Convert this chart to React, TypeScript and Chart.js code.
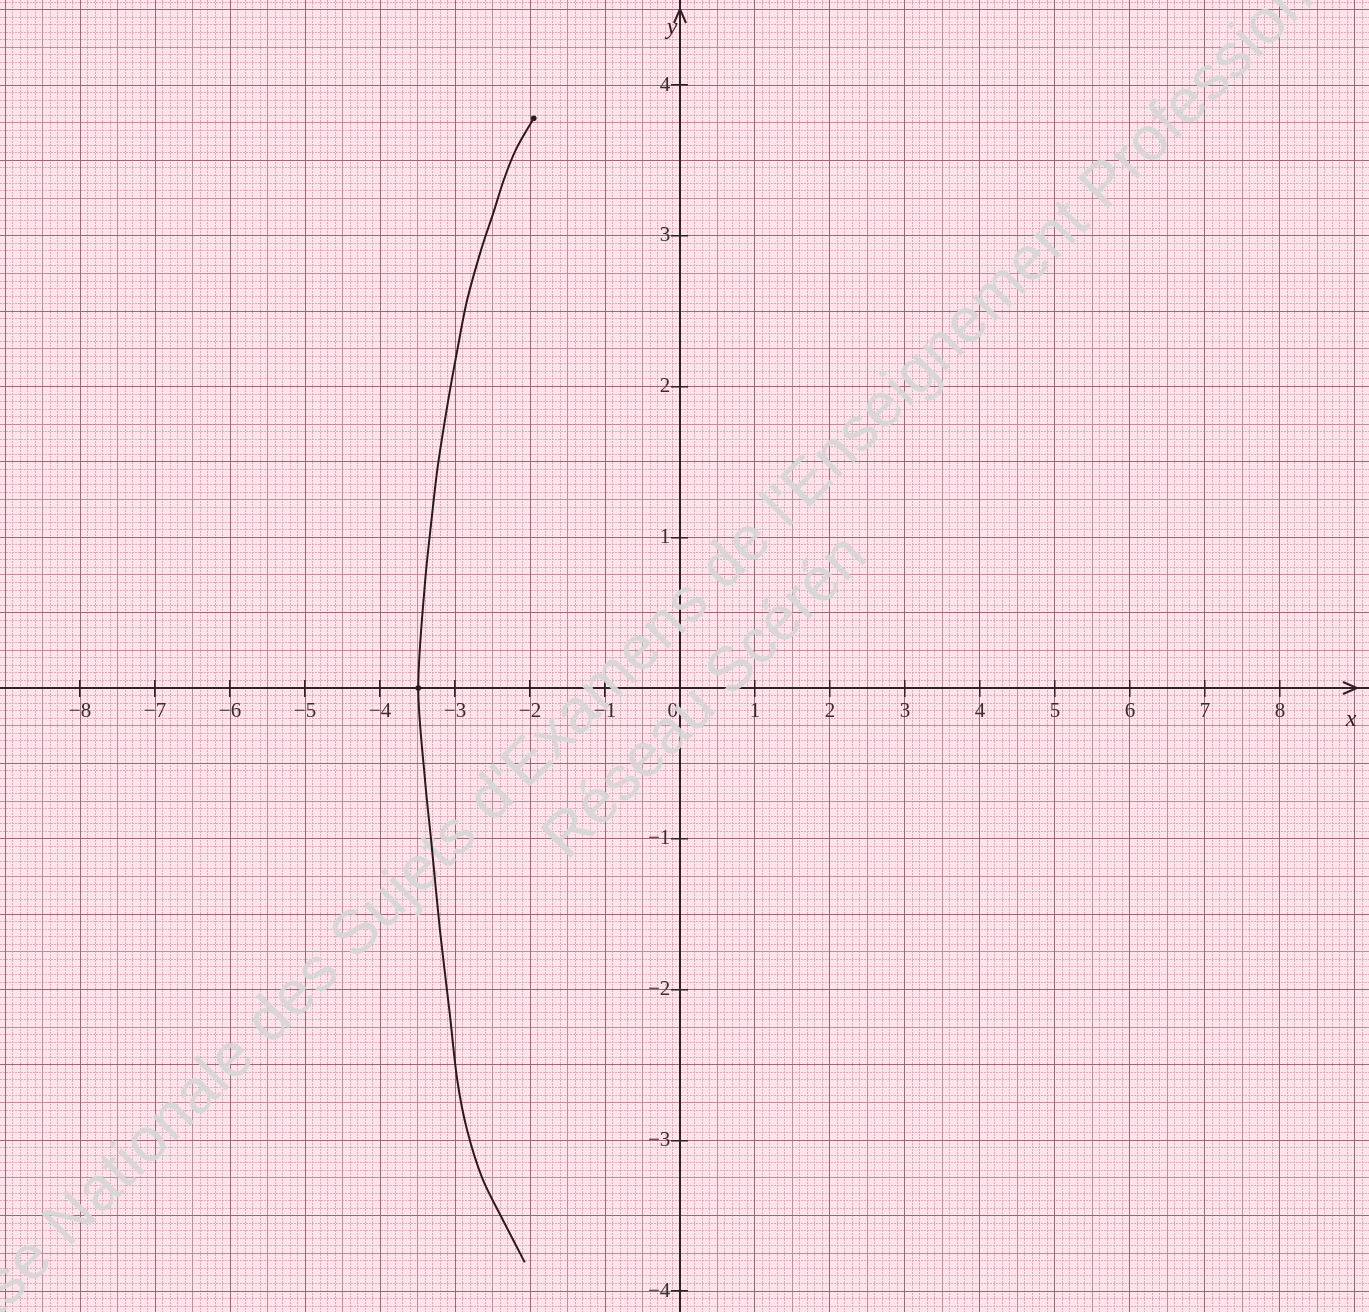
import React, { useEffect, useRef } from 'react';
import { Chart, registerables } from 'chart.js';
Chart.register(...registerables);

// axis ranges (data units)
const X_MIN = -9.067;
const X_MAX = 9.187;
const Y_MIN = -4.139;
const Y_MAX = 4.564;

// labelled ticks
const X_TICKS = [-8, -7, -6, -5, -4, -3, -2, -1, 0, 1, 2, 3, 4, 5, 6, 7, 8];
const Y_TICKS = [-4, -3, -2, -1, 1, 2, 3, 4];

// graph-paper steps
const X_STEPS = [0.1, 0.5, 1];
const Y_STEPS = [0.05, 0.25, 0.5];

// the drawn curve
const CURVE_X = [-1.95, -2.19, -2.35, -2.49, -2.65, -2.84, -2.97, -3.09, -3.23, -3.31, -3.40, -3.49, -3.40, -3.31, -3.20, -3.07, -2.97, -2.84, -2.63, -2.36, -2.07];
const CURVE_Y = [3.78, 3.57, 3.37, 3.15, 2.91, 2.57, 2.24, 1.91, 1.47, 1.13, 0.70, 0, -0.61, -1.05, -1.61, -2.16, -2.60, -2.93, -3.26, -3.53, -3.81];
const MARKED = [0, 11];

const WM_LINE1 = "Base Nationale des Sujets d'Examens de l'Enseignement Professionnel";
const WM_LINE2 = 'Réseau Scérén';

const AXIS = '#2e2024';
const fmt = (v: number) => (v < 0 ? '\u2212' + Math.abs(v) : v === 0 ? '0\u2002\u2009' : String(v));
const noPad = (s: any) => {
  s.paddingTop = 0;
  s.paddingBottom = 0;
  s.paddingLeft = 0;
  s.paddingRight = 0;
};

const gridX = (step: number, color: string, dash: number[]) => ({
  type: 'linear',
  axis: 'x',
  position: { y: 0 },
  min: X_MIN,
  max: X_MAX,
  afterFit: noPad,
  ticks: { display: false, stepSize: step, includeBounds: false },
  grid: { color, lineWidth: 1, drawTicks: false },
  border: { display: false, dash },
});
const gridY = (step: number, color: string, dash: number[]) => ({
  type: 'linear',
  axis: 'y',
  position: { x: 0 },
  min: Y_MIN,
  max: Y_MAX,
  afterFit: noPad,
  ticks: { display: false, stepSize: step, includeBounds: false },
  grid: { color, lineWidth: 1, drawTicks: false },
  border: { display: false, dash },
});

const decor = {
  id: 'decor',
  beforeDatasetsDraw(chart: any) {
    const ctx = chart.ctx;
    const d = Math.SQRT1_2;
    ctx.save();
    ctx.fillStyle = 'rgba(214,214,214,0.93)';
    ctx.font = '62px "Liberation Sans", Arial, sans-serif';
    ctx.textBaseline = 'middle';
    ctx.textAlign = 'left';
    // stretch line 1 so that "Nationale" starts near the lower-left and "Professio" reaches the top-right corner
    const pre = ctx.measureText('Base ').width;
    const part = "Nationale des Sujets d'Examens de l'Enseignement Professio";
    const span = ctx.measureText(part).width;
    const target = 1730;
    const extra = (target - span) / part.length;
    (ctx as any).letterSpacing = extra.toFixed(2) + 'px';
    const preS = pre + extra * 5;
    const nx = 56, ny = 1236;
    ctx.save();
    ctx.translate(nx - preS * d, ny + preS * d);
    ctx.rotate(-Math.PI / 4);
    ctx.fillText(WM_LINE1, 0, 0);
    ctx.restore();
    (ctx as any).letterSpacing = '0px';
    ctx.save();
    ctx.translate(706, 698);
    ctx.rotate(-Math.PI / 4);
    ctx.textAlign = 'center';
    ctx.fillText(WM_LINE2, 0, 0);
    ctx.restore();
    ctx.restore();
  },
  afterDraw(chart: any) {
    const ctx = chart.ctx;
    const xs = chart.scales.x;
    const ys = chart.scales.y;
    const ox = xs.getPixelForValue(0);
    const oy = ys.getPixelForValue(0);
    const xr = chart.chartArea.right - 12;
    const yt = chart.chartArea.top + 9;
    ctx.save();
    ctx.strokeStyle = AXIS;
    ctx.lineWidth = 2;
    ctx.beginPath();
    ctx.moveTo(xr - 14, oy - 6);
    ctx.lineTo(xr, oy);
    ctx.lineTo(xr - 14, oy + 6);
    ctx.moveTo(ox - 6, yt + 14);
    ctx.lineTo(ox, yt);
    ctx.lineTo(ox + 6, yt + 14);
    ctx.stroke();
    ctx.fillStyle = AXIS;
    ctx.font = 'italic 24px "Liberation Serif", serif';
    ctx.textAlign = 'center';
    ctx.textBaseline = 'middle';
    ctx.fillText('x', xr - 6, oy + 32);
    ctx.fillText('y', ox - 8, yt + 19);
    ctx.restore();
  },
};

export default function App() {
  const ref = useRef<HTMLCanvasElement>(null);
  useEffect(() => {
    const data = CURVE_X.map((x, i) => ({ x, y: CURVE_Y[i] }));
    const radii = CURVE_X.map((_, i) => (MARKED.includes(i) ? 2.8 : 0));
    const tickFont = { family: '"Liberation Serif", serif', size: 21 };
    const chart = new Chart(ref.current as HTMLCanvasElement, {
      type: 'scatter',
      data: {
        datasets: [
          {
            data,
            showLine: true,
            borderColor: '#2a1a1e',
            backgroundColor: '#2a1a1e',
            borderWidth: 2,
            tension: 0.3,
            pointRadius: radii,
            pointHoverRadius: radii,
            pointBorderWidth: 0,
            xAxisID: 'x',
            yAxisID: 'y',
          },
        ],
      },
      plugins: [decor],
      options: {
        animation: false,
        responsive: false,
        devicePixelRatio: 1,
        layout: { padding: 0, autoPadding: false },
        plugins: { legend: { display: false }, tooltip: { enabled: false } },
        events: [],
        scales: {
          xMinor: gridX(X_STEPS[0], '#dfaab8', [2, 1]),
          yMinor: gridY(Y_STEPS[0], '#dfaab8', [2, 1]),
          xMed: gridX(X_STEPS[1], '#c08e9b', []),
          yMed: gridY(Y_STEPS[1], '#c08e9b', []),
          xMajor: gridX(X_STEPS[2], '#9c6876', []),
          yMajor: gridY(Y_STEPS[2], '#9c6876', []),
          x: {
            type: 'linear',
            position: { y: 0 },
            min: X_MIN,
            max: X_MAX,
            afterFit: noPad,
            afterBuildTicks: (s: any) => { s.ticks = X_TICKS.map((v) => ({ value: v })); },
            ticks: { autoSkip: false, maxRotation: 0, padding: 3, color: '#3a2c30', font: tickFont, callback: (v: any) => fmt(Number(v)) },
            grid: { drawOnChartArea: false, drawTicks: true, tickLength: 8, color: AXIS, lineWidth: 1.5 },
            border: { display: true, color: AXIS, width: 2 },
          },
          xUp: {
            type: 'linear',
            axis: 'x',
            position: { y: 0 },
            min: X_MIN,
            max: X_MAX,
            afterFit: noPad,
            afterBuildTicks: (s: any) => { s.ticks = X_TICKS.map((v) => ({ value: v })); },
            ticks: { display: false },
            grid: { drawOnChartArea: false, drawTicks: true, tickLength: -8, color: AXIS, lineWidth: 1.5 },
            border: { display: false },
          },
          y: {
            type: 'linear',
            position: { x: 0 },
            min: Y_MIN,
            max: Y_MAX,
            afterFit: noPad,
            afterBuildTicks: (s: any) => { s.ticks = Y_TICKS.map((v) => ({ value: v })); },
            ticks: { display: false },
            grid: { drawOnChartArea: false, drawTicks: true, tickLength: 8, color: AXIS, lineWidth: 1.5 },
            border: { display: true, color: AXIS, width: 2 },
          },
          yLeft: {
            type: 'linear',
            axis: 'y',
            position: { x: 0 },
            min: Y_MIN,
            max: Y_MAX,
            afterFit: noPad,
            afterBuildTicks: (s: any) => { s.ticks = Y_TICKS.map((v) => ({ value: v })); },
            ticks: { display: false },
            grid: { drawOnChartArea: false, drawTicks: true, tickLength: -8, color: AXIS, lineWidth: 1.5 },
            border: { display: false },
          },
          yLabels: {
            type: 'linear',
            axis: 'y',
            position: { x: -0.13 },
            min: Y_MIN,
            max: Y_MAX,
            afterFit: noPad,
            afterBuildTicks: (s: any) => { s.ticks = Y_TICKS.map((v) => ({ value: v })); },
            ticks: { display: true, autoSkip: false, color: '#3a2c30', font: tickFont, callback: (v: any) => fmt(Number(v)) },
            grid: { display: false },
            border: { display: false },
          },
        } as any,
      },
    } as any);
    return () => chart.destroy();
  }, []);
  return (
    <div style={{ position: 'absolute', left: 0, top: 0, width: 1369, height: 1312 }}>
      <canvas ref={ref} width={1369} height={1312} style={{ display: 'block', background: '#fce4ea' }} />
    </div>
  );
}
